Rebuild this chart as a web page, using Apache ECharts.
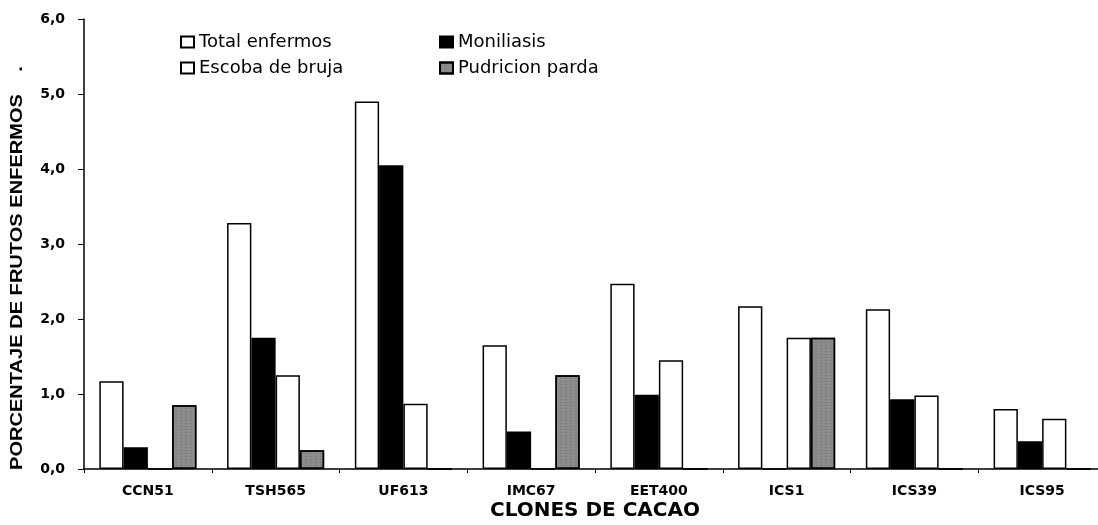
<!DOCTYPE html>
<html>
<head>
<meta charset="utf-8">
<script src="https://cdn.jsdelivr.net/npm/echarts@6/dist/echarts.min.js"></script>
<style>html,body{margin:0;padding:0;background:#fff}#c{width:1098px;height:525px}</style>
</head>
<body>
<div id="c"></div>
<script>
const categories = ['CCN51','TSH565','UF613','IMC67','EET400','ICS1','ICS39','ICS95'];
const totalEnfermos = [1.17, 3.28, 4.90, 1.65, 2.47, 2.17, 2.13, 0.80];
const moniliasis    = [0.29, 1.75, 4.05, 0.50, 0.99, 0.00, 0.93, 0.37];
const escobaBruja   = [0.00, 1.25, 0.87, 0.00, 1.45, 1.75, 0.98, 0.67];
const pudricion     = [0.85, 0.25, 0.00, 1.25, 0.00, 1.75, 0.00, 0.00];
const yTicks = [0, 1, 2, 3, 4, 5, 6];

const font = '"DejaVu Sans", Verdana, sans-serif';
const chart = echarts.init(document.getElementById('c'));
const border = {borderColor:'#000', borderWidth:1.5};
const legendText = {fontFamily:font, fontSize:18, color:'#000'};
chart.setOption({
  backgroundColor:'#fff',
  animation:false,
  grid:{left:84, right:-8, top:19, bottom:56, outerBoundsMode:'none', containLabel:false},
  legend:[
    {left:175, top:28, orient:'vertical', itemGap:8, itemWidth:13, itemHeight:11, icon:'rect',
     data:['Total enfermos','Escoba de bruja'], textStyle:legendText},
    {left:434, top:28, orient:'vertical', itemGap:8, itemWidth:13, itemHeight:11, icon:'rect',
     data:['Moniliasis','Pudricion parda'], textStyle:legendText}
  ],
  xAxis:{
    type:'category', data:categories,
    axisLine:{lineStyle:{color:'#000', width:1.5}},
    axisTick:{show:true, length:4, lineStyle:{color:'#000'}},
    axisLabel:{fontFamily:font, fontSize:14, fontWeight:'bold', color:'#000', margin:15},
    name:'CLONES DE CACAO', nameLocation:'middle', nameGap:32, nameMoveOverlap:false,
    nameTextStyle:{fontFamily:font, fontSize:20, fontWeight:'bold', color:'#000'}
  },
  yAxis:{
    type:'value', min:0, max:6, interval:1,
    axisLine:{show:true, lineStyle:{color:'#000', width:1.5}},
    axisTick:{show:true, length:6, inside:false, lineStyle:{color:'#000'}},
    splitLine:{show:false},
    axisLabel:{fontFamily:font, fontSize:14, fontWeight:'bold', color:'#000', margin:19,
      formatter:v => yTicks.includes(v) ? v.toFixed(1).replace('.', ',') : ''}
  },
  graphic:[{
    type:'text', x:17, y:470, rotation:Math.PI/2, scaleX:1.18,
    style:{text:'PORCENTAJE DE FRUTOS ENFERMOS    .', font:'bold 17px Arial, "Liberation Sans", sans-serif',
      fill:'#000', align:'left', verticalAlign:'middle'}
  }],
  series:[
    {name:'Total enfermos', type:'bar', data:totalEnfermos, barGap:'0%', barCategoryGap:'24%',
     itemStyle:Object.assign({color:'#fff'}, border)},
    {name:'Moniliasis', type:'bar', data:moniliasis,
     itemStyle:Object.assign({color:'#000'}, border)},
    {name:'Escoba de bruja', type:'bar', data:escobaBruja,
     itemStyle:Object.assign({color:'#fff'}, border)},
    {name:'Pudricion parda', type:'bar', data:pudricion,
     itemStyle:Object.assign({color:'#8c8c8c',
       decal:{symbol:'rect', symbolSize:0.6, color:'rgba(40,40,40,0.6)', dashArrayX:[2,3], dashArrayY:[1,2], rotation:0}}, border)}
  ]
});
</script>
</body>
</html>
